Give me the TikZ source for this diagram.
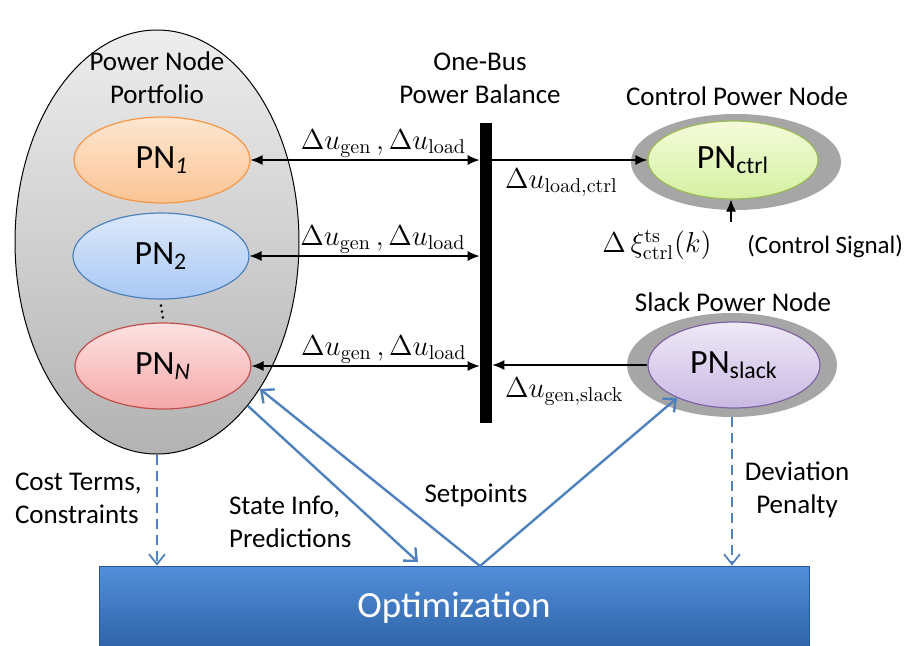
\documentclass[tikz,border=0pt]{standalone}
\usepackage[no-math]{fontspec}
\setmainfont{Carlito}
\usepackage{tikz}
\usetikzlibrary{positioning,arrows.meta,shapes.geometric}
\definecolor{offblue}{HTML}{4F81BD}
\definecolor{ringgray}{HTML}{A6A6A6}

\begin{document}
\begin{tikzpicture}[x=0.5pt, y=-0.5pt, font=\fontsize{13.5}{16.5}\selectfont,
  pn/.style={ellipse, draw, line width=0.6pt, minimum width=88pt, minimum height=43pt, inner sep=0pt, font=\fontsize{17}{20}\selectfont},
  ring/.style={ellipse, fill=ringgray, minimum width=105pt, minimum height=50pt},
  dl/.style={font=\fontsize{14.5}{17}\selectfont, inner sep=1pt},
  tip/.style={-{Latex[length=6pt, width=5pt]}, line width=0.6pt},
  both/.style={{Latex[length=6pt, width=5pt]}-{Latex[length=6pt, width=5pt]}, line width=0.6pt},
  flow/.style={draw=offblue, line width=1.2pt, -{Straight Barb[length=5pt, width=9pt]}},
  dflow/.style={draw=offblue, line width=0.9pt, dash pattern=on 5pt off 3pt, -{Straight Barb[length=5pt, width=8pt]}}]
\useasboundingbox (0,0) rectangle (912,645);
\node[ellipse, draw, line width=0.5pt, top color=black!7, bottom color=black!30, minimum width=142pt, minimum height=212pt] (port) at (157,242) {};
\node[align=center] (porttxt) at (157,78) {Power Node\\Portfolio};
\node[pn, draw={rgb,255:red,247;green,150;blue,70}, top color={rgb,255:red,253;green,230;blue,208}, bottom color={rgb,255:red,251;green,196;blue,148}] (pn1) at (162,160) {PN\textsubscript{\itshape 1}};
\node[pn, draw=offblue, top color={rgb,255:red,220;green,232;blue,250}, bottom color={rgb,255:red,168;green,200;blue,245}] (pn2) at (161,256) {PN\textsubscript{2}};
\node[pn, draw={rgb,255:red,192;green,80;blue,77}, top color={rgb,255:red,253;green,226;blue,226}, bottom color={rgb,255:red,245;green,168;blue,168}] (pnN) at (163,366) {PN\textsubscript{\itshape N}};
\draw[line width=1.4pt, dash pattern=on 0pt off 3pt, line cap=round] ([yshift=-3pt]pn2.south) -- ([yshift=2pt]pnN.north);
\node[align=center] (bustxt) at (480,78) {One-Bus\\Power Balance};
\node[fill=black, minimum width=6pt, minimum height=150pt, inner sep=0pt] (bus) at (486,273) {};
\foreach \n in {pn1,pn2,pnN}
  \draw[both] (\n.east) -- (\n.east -| bus.west) node[dl, pos=0.58, above] {$\Delta u_{\mathrm{gen}}\,,\Delta u_{\mathrm{load}}$};
\node (ctrltxt) at (737,96) {Control Power Node};
\node[ring, minimum height=48pt] (ctrlring) at (736,162) {};
\node[pn, draw={rgb,255:red,155;green,187;blue,89}, top color={rgb,255:red,244;green,252;blue,217}, bottom color={rgb,255:red,212;green,240;blue,162}, minimum width=85pt, minimum height=39pt] (ctrl) at (733,160) {PN\textsubscript{ctrl}};
\draw[tip] (ctrl.west -| bus.east) -- (ctrl.west) node[dl, at start, anchor=north west, xshift=5pt, yshift=-3pt] {$\Delta u_{\mathrm{load,ctrl}}$};
\coordinate (sig) at (731,222);
\draw[tip] (sig) -- (sig |- ctrl.south);
\node[dl, anchor=east] (xi) at (714,245) {$\Delta\,\xi^{\mathrm{ts}}_{\mathrm{ctrl}}(k)$};
\node[anchor=west, inner sep=1pt, font=\fontsize{12.5}{15}\selectfont] (sigtxt) at (745,246) {(Control Signal)};
\node (slacktxt) at (733,302) {Slack Power Node};
\node[ring, minimum height=52pt] (slackring) at (732,365) {};
\node[pn, draw={rgb,255:red,128;green,100;blue,162}, top color={rgb,255:red,239;green,233;blue,247}, bottom color={rgb,255:red,201;green,185;blue,227}, minimum width=86pt] (slack) at (734,365) {PN\textsubscript{slack}};
\draw[tip] (slack.west) -- (slack.west -| bus.east) node[dl, at end, anchor=north west, xshift=5pt, yshift=-5pt] {$\Delta u_{\mathrm{gen,slack}}$};
\node[draw={rgb,255:red,42;green,88;blue,150}, top color={rgb,255:red,82;green,143;blue,218}, bottom color={rgb,255:red,46;green,98;blue,166}, minimum width=355pt, minimum height=42pt, text=white, font=\fontsize{18.5}{22}\selectfont] (opt) at (454,608) {Optimization};
\coordinate (vtx) at (480,566);
\coordinate (sitip) at (418,562);
\draw[flow] (vtx) -- (port.-55);
\draw[flow] (vtx) -- (slack.210);
\draw[flow] (port.-61) -- (sitip);
\draw[dflow] (port.south) -- (port.south |- opt.north);
\draw[dflow] (slackring.south) -- (slackring.south |- opt.north);
\node[anchor=west, align=left] (costtxt) at (8,498) {Cost Terms,\\Constraints};
\node[anchor=west, align=left] (statetxt) at (222,522) {State Info,\\Predictions};
\node (settxt) at (476,495) {Setpoints};
\node[align=center] (devtxt) at (797,490) {Deviation\\Penalty};
\end{tikzpicture}
\end{document}
